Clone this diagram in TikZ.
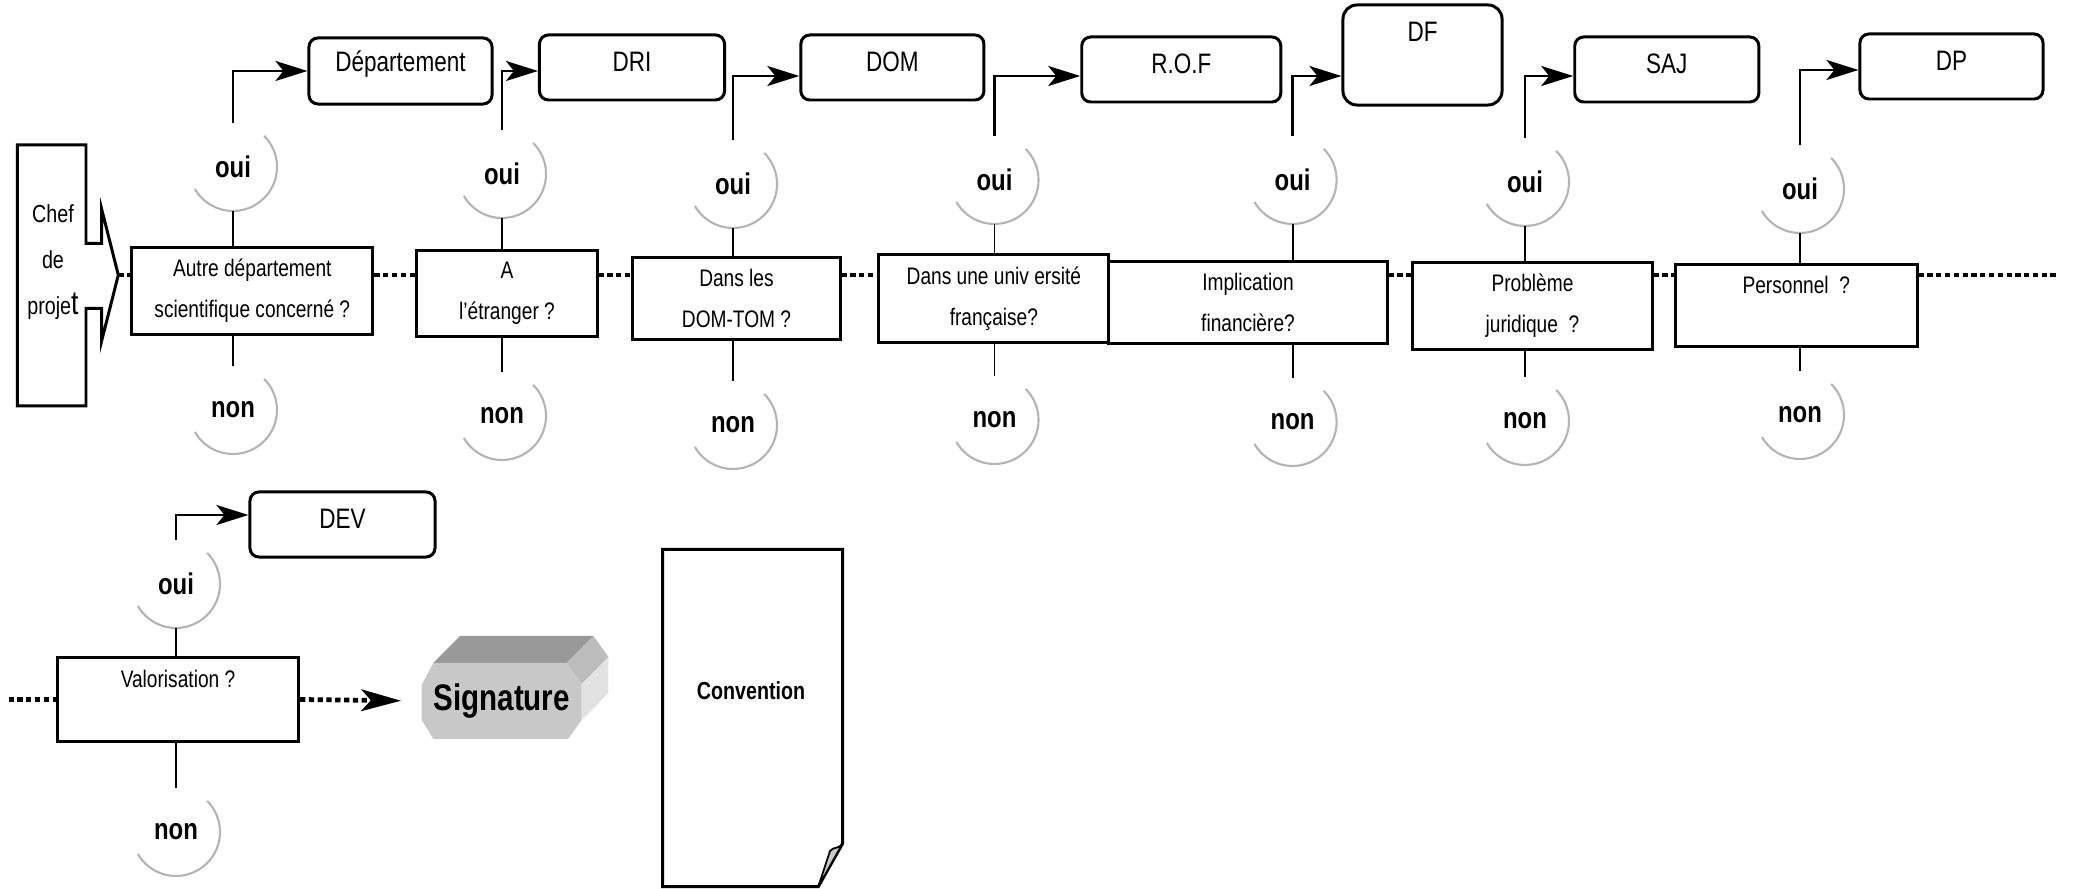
\documentclass[tikz,border=0pt]{standalone}
\usepackage{fontspec}
\setmainfont{Liberation Sans}[FakeStretch=0.8]
\usetikzlibrary{arrows.meta}
\definecolor{RimGray}{RGB}{180,180,180}
\definecolor{SigTop}{RGB}{153,153,153}
\definecolor{SigFront}{RGB}{200,200,200}
\definecolor{SigBevel}{RGB}{188,188,188}
\definecolor{SigSide}{RGB}{226,226,226}
\definecolor{FoldGray}{RGB}{200,200,200}
\tikzset{
	svc/.style={draw=black,fill=white,rounded corners=0.09cm,line width=0.85pt,minimum height=0.65cm,
		label={[anchor=center,yshift=-0.28cm,font=\fontsize{8}{9}\selectfont]north:#1}},
	quest/.style={draw=black,fill=white,line width=0.85pt,minimum height=0.817cm,align=center,
		font=\fontsize{6.8}{11.7}\selectfont},
	rep/.style={circle,fill=white,minimum size=0.88cm,inner sep=0pt,outer sep=0pt,
		font=\bfseries\fontsize{8.5}{9}\selectfont},
	rim/.style={draw=RimGray,line width=0.6pt},
	link/.style={draw=black,line width=0.55pt},
	elbow/.style={draw=black,line width=0.8pt,-{Stealth[length=0.32cm,width=0.2cm,inset=0.08cm]}},
	dotline/.style={draw=black,line width=1.35pt,dash pattern=on 1.5pt off 1pt},
}

\begin{document}
\begin{tikzpicture}[x=0.01cm,y=-0.01cm]
	\useasboundingbox (0,0) rectangle (2074,889);
	\draw[fill=white,line width=0.85pt] (17.3,145) -- (86,145) -- (86,243.3) -- (101.7,243.3) -- (101.7,209.3) -- (118.3,275)
		-- (101.7,340.7) -- (101.7,308.3) -- (86,308.3) -- (86,406) -- (17.3,406) -- cycle;
	\node[align=center,font=\fontsize{7}{13}\selectfont] (chef) at (53,262) {Chef\\de\\proje{\fontsize{9.5}{13}\selectfont t}};
	\coordinate (tip) at (118.3,275);
	\coordinate (far) at (2058,275);
	\coordinate (vstart) at (8.6,699.5);

	\node[svc=Département,minimum width=1.83cm,minimum height=0.66cm] (dept) at (400.5,71) {};
	\node[svc=DRI,minimum width=1.85cm] (dri) at (632,67.5) {};
	\node[svc=DOM,minimum width=1.83cm] (dom) at (892.4,67.5) {};
	\node[svc=R.O.F,minimum width=1.99cm] (rof) at (1181.3,69.5) {};
	\node[svc=DF,minimum width=1.59cm,minimum height=1.0cm,rounded corners=0.14cm] (df) at (1422.5,55) {};
	\node[svc=SAJ,minimum width=1.84cm] (saj) at (1666.8,69.5) {};
	\node[svc=DP,minimum width=1.83cm] (dp) at (1951.5,66.5) {};
	\node[svc=DEV,minimum width=1.85cm] (dev) at (342.5,524.5) {};

	\node[quest,minimum width=2.41cm] (q1) at (252.3,290.8) {Autre département\\scientifique concerné ?};
	\node[quest,minimum width=1.80cm] (q2) at (507,293.5) {A\\l'étranger ?};
	\node[quest,minimum width=2.07cm] (q3) at (736.5,298.5) {Dans les\\DOM-TOM ?};
	\node[quest,minimum width=2.30cm] (q4) at (993.9,298.5) {Dans une univ ersité\\française?};
	\node[quest,minimum width=2.78cm] (q5) at (1248,302.7) {Implication\\financière?};
	\node[quest,minimum width=2.39cm] (q6) at (1532.5,305.8) {Problème\\juridique~~?};
	\node[quest,minimum width=2.415cm] (q7) at (1796.3,305.8) {Personnel~~?\\\mbox{}};
	\node[quest,minimum width=2.41cm,minimum height=0.844cm] (qv) at (178,699.5) {Valorisation ?\\\mbox{}};

	\node[rep] (o1) at (233,167) {oui};
	\node[rep] (o2) at (502,174) {oui};
	\node[rep] (o3) at (733,184) {oui};
	\node[rep] (o4) at (994.5,180) {oui};
	\node[rep] (o5) at (1292.6,180) {oui};
	\node[rep] (o6) at (1525,182) {oui};
	\node[rep] (o7) at (1800,189) {oui};
	\node[rep] (ov) at (176,584) {oui};
	\node[rep] (n1) at (233,410) {non};
	\node[rep] (n2) at (502,416) {non};
	\node[rep] (n3) at (733,425) {non};
	\node[rep] (n4) at (994.5,420) {non};
	\node[rep] (n5) at (1292.6,422) {non};
	\node[rep] (n6) at (1525,421) {non};
	\node[rep] (n7) at (1800,415) {non};
	\node[rep] (nv) at (176,832) {non};
	\foreach \c in {o1,o2,o3,o4,o5,o6,o7,ov,n1,n2,n3,n4,n5,n6,n7,nv}
		\draw[rim] (\c.45) arc[start angle=45,end angle=-150,radius=0.44cm];

	\foreach \i in {1,2,3,4,5,6,7,v}{
		\draw[link] (o\i.south) -- (o\i.south |- q\i.north);
		\draw[link] (n\i.north |- q\i.south) -- (n\i.north);
	}

	\draw[elbow] (o1.north) |- (dept.west);
	\draw[elbow] (o2.north) |- ([yshift=-0.035cm]dri.west);
	\draw[elbow] (o3.north) |- ([yshift=-0.085cm]dom.west);
	\draw[elbow] (o4.north) |- ([yshift=-0.065cm]rof.west);
	\draw[elbow] (o5.north) |- ([yshift=-0.21cm]df.west);
	\draw[elbow] (o6.north) |- ([yshift=-0.065cm]saj.west);
	\draw[elbow] (o7.north) |- ([yshift=-0.035cm]dp.west);
	\draw[elbow] (ov.north) |- ([yshift=0.095cm]dev.west);

	\draw[dotline] (tip) -- (q1.west |- tip);
	\foreach \a/\b in {q1/q2,q2/q3,q3/q4,q5/q6,q6/q7}
		\draw[dotline] (\a.east |- tip) -- (\b.west |- tip);
	\draw[dotline] (q7.east |- tip) -- (far);

	\fill[SigTop] (433.3,663) -- (460,636) -- (593.4,636) -- (566.7,663) -- cycle;
	\fill[SigBevel] (566.7,663) -- (593.4,636) -- (608.4,657) -- (581.7,684) -- cycle;
	\fill[SigSide] (581.7,684) -- (608.4,657) -- (608.4,693) -- (581.7,720) -- cycle;
	\fill[SigFront] (421.7,685) -- (433.3,663) -- (566.7,663) -- (581.7,684) -- (581.7,720) -- (568,739)
		-- (433.3,739) -- (421.7,720) -- cycle;
	\node[font=\bfseries\fontsize{10.5}{12}\selectfont,minimum width=1.6cm,minimum height=0.76cm] (sig) at (501.7,701) {Signature};

	\draw[dotline] (vstart) -- (qv.west);
	\draw[dotline,-{Stealth[length=0.4cm,width=0.22cm,inset=0.1cm,line width=0.4pt]},shorten >=0.2cm] (qv.east) -- (sig.west);

	\draw[fill=white,line width=0.85pt] (662.7,549.3) -- (842.7,549.3) -- (842.7,843.3) -- (818.3,886.7) -- (662.7,886.7) -- cycle;
	\draw[fill=FoldGray,line width=0.5pt] (842.7,843.3) .. controls (838,850) and (834,846) .. (830,851) -- (818.3,886.7) -- cycle;
	\node[font=\bfseries\fontsize{7}{9}\selectfont] (conv) at (751,691) {Convention};
\end{tikzpicture}
\end{document}
